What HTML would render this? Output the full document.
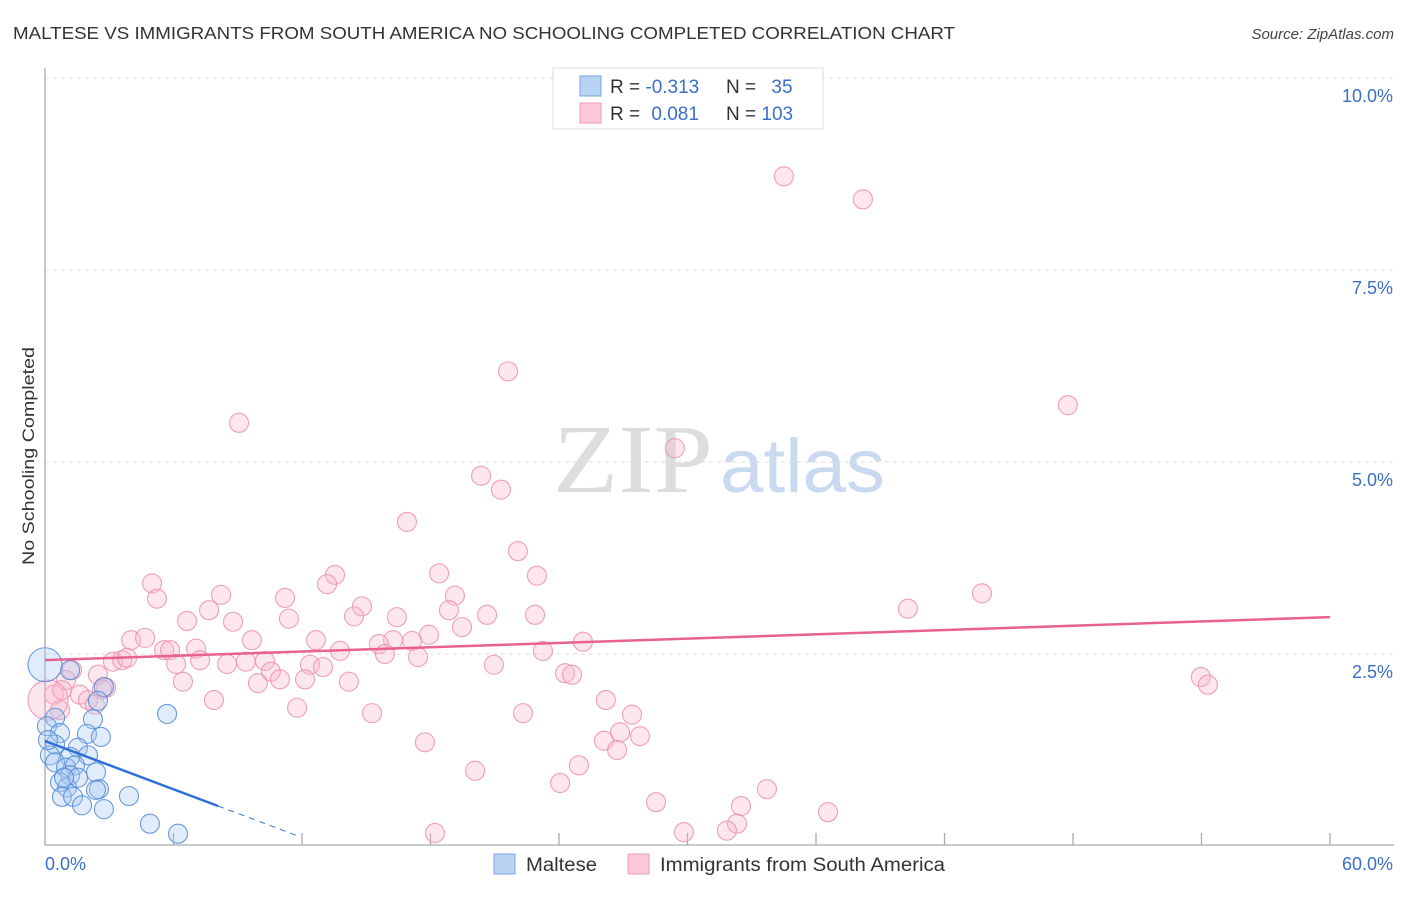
<!DOCTYPE html>
<html><head><meta charset="utf-8"><style>
body{margin:0;background:#fff;font-family:"Liberation Sans",sans-serif}
</style></head><body>
<svg width="1406" height="892" viewBox="0 0 1406 892" xmlns="http://www.w3.org/2000/svg" font-family="Liberation Sans, sans-serif">
<text x="13" y="39" font-size="17.5" fill="#333" textLength="942" lengthAdjust="spacingAndGlyphs">MALTESE VS IMMIGRANTS FROM SOUTH AMERICA NO SCHOOLING COMPLETED CORRELATION CHART</text>
<text x="1394" y="39" font-size="15" fill="#444" text-anchor="end" font-style="italic">Source: ZipAtlas.com</text>
<g>
<text x="553" y="492" font-size="98" font-family="Liberation Serif, serif" fill="#ddd" textLength="160" lengthAdjust="spacingAndGlyphs">ZIP</text>
<text x="720" y="492" font-size="76" fill="#c9daf0" textLength="165" lengthAdjust="spacingAndGlyphs">atlas</text>
</g>
<g id="grid"></g>
<g id="axes"></g>
<g id="marks"></g>
<text transform="translate(34,456) rotate(-90)" font-size="17" fill="#333" text-anchor="middle" textLength="218" lengthAdjust="spacingAndGlyphs">No Schooling Completed</text>
<g>
<rect x="553" y="68" width="270" height="61" fill="#fff" stroke="#ddd"/>
<rect x="580" y="76" width="21" height="20" fill="#b9d3f5" stroke="#7aa6e0"/>
<rect x="580" y="103" width="21" height="20" fill="#fcc9d8" stroke="#ef9ab4"/>
<text x="610" y="93" font-size="19" fill="#333">R = <tspan fill="#3a6fc9">-0.313</tspan></text>
<text x="726" y="93" font-size="19" fill="#333">N = <tspan fill="#3a6fc9" dx="10">35</tspan></text>
<text x="610" y="120" font-size="19" fill="#333">R = <tspan fill="#3a6fc9" dx="6">0.081</tspan></text>
<text x="726" y="120" font-size="19" fill="#333">N = <tspan fill="#3a6fc9">103</tspan></text>
</g>
<g>
<rect x="494" y="854" width="21" height="20" fill="#b9d3f5" stroke="#7aa6e0"/>
<text x="526" y="871" font-size="19" fill="#333" textLength="71" lengthAdjust="spacingAndGlyphs">Maltese</text>
<rect x="628" y="854" width="21" height="20" fill="#fcc9d8" stroke="#ef9ab4"/>
<text x="660" y="871" font-size="19" fill="#333" textLength="285" lengthAdjust="spacingAndGlyphs">Immigrants from South America</text>
</g>
</svg>
<script>
const yTicks=[2.5,5,7.5,10];
const yTickLabels=["2.5%","5.0%","7.5%","10.0%"];
const xTicks=[0,6,12,18,24,30,36,42,48,54,60];
const xEndLabels=["0.0%","60.0%"];
const pinkX=[34.50,38.19,21.62,47.76,9.06,29.41,20.36,21.29,16.90,22.08,5.00,18.40,22.97,13.54,13.17,5.23,8.22,11.21,19.14,14.80,7.66,40.29,43.75,6.63,8.78,11.39,14.43,16.43,18.86,20.64,22.88,19.47,17.93,4.02,4.67,9.66,12.65,16.25,17.14,25.12,5.56,5.84,7.05,13.77,15.59,15.87,23.25,7.24,3.17,3.60,3.83,6.12,8.50,9.38,10.27,17.42,12.37,12.98,20.96,10.55,10.97,12.14,24.28,24.61,6.44,9.94,14.19,53.97,54.30,2.85,2.47,1.26,0.98,7.89,11.77,15.27,22.32,26.19,27.41,0.42,0.70,1.63,2.01,26.85,26.10,27.78,17.74,26.71,20.08,24.93,24.05,33.71,28.53,32.50,36.56,32.31,31.84,29.83,18.21,0.79,2.66,2.33];
const pinkY=[8.72,8.42,6.18,5.74,5.51,5.18,4.82,4.64,4.22,3.84,3.42,3.55,3.52,3.53,3.41,3.22,3.27,3.23,3.26,3.12,3.07,3.09,3.29,2.93,2.92,2.96,2.99,2.98,3.07,3.01,3.01,2.85,2.75,2.68,2.71,2.68,2.68,2.68,2.67,2.66,2.55,2.55,2.57,2.54,2.63,2.50,2.54,2.42,2.40,2.42,2.45,2.37,2.37,2.40,2.41,2.46,2.36,2.33,2.36,2.27,2.17,2.17,2.25,2.23,2.14,2.12,2.14,2.20,2.10,2.06,2.23,2.29,2.16,1.90,1.80,1.73,1.73,1.90,1.71,1.97,1.77,1.97,1.90,1.48,1.37,1.43,1.35,1.25,0.98,1.05,0.82,0.74,0.57,0.52,0.44,0.29,0.20,0.18,0.17,2.03,2.04,1.84];
const pinkBigX=[0.14];
const pinkBigY=[1.90];
const blueX=[1.17,2.75,2.47,5.70,2.24,0.47,0.09,0.70,1.96,2.61,0.47,1.54,2.01,0.23,1.17,0.47,0.98,1.40,2.38,1.17,0.70,1.03,1.54,0.89,2.52,2.38,0.79,1.31,3.92,1.73,2.75,4.90,6.21,0.14];
const blueY=[2.29,2.07,1.89,1.72,1.65,1.67,1.56,1.47,1.46,1.42,1.32,1.28,1.18,1.18,1.16,1.09,1.02,1.05,0.96,0.92,0.83,0.76,0.89,0.89,0.74,0.73,0.64,0.64,0.65,0.53,0.48,0.29,0.16,1.38];
const blueBigX=[0];
const blueBigY=[2.36];
const blueTrend=[1.367,-0.1047,8.08,11.9];
const pinkTrend=[2.42,2.98];
const X=v=>45+v/60*1285, Y=v=>846-v/10*768;
const NS="http://www.w3.org/2000/svg";
function mk(p,tag,a){const e=document.createElementNS(NS,tag);for(const k in a)e.setAttribute(k,a[k]);document.getElementById(p).appendChild(e);return e;}
yTicks.forEach((t,i)=>{
 const g=mk('grid','line',{x1:45,x2:1394,y1:Y(t),y2:Y(t),stroke:'#ddd','stroke-dasharray':'4,4'});
 
 
 const l=mk('grid','text',{x:1393,y:Y(t)+24,'font-size':18,fill:'#3a6fc9','text-anchor':'end'});
 l.textContent=yTickLabels[i];
 
 
});
const ax=mk('axes','path',{d:`M45 68 V845 H1394`,stroke:'#aaa',fill:'none','stroke-width':1.3});


xTicks.slice(1).forEach(t=>{
 const tk=mk('axes','line',{x1:X(t),x2:X(t),y1:833,y2:845,stroke:'#aaa','stroke-width':1.3});
 
 
});
[[0,45,'start'],[1,1393,'end']].forEach(([i,x,a])=>{
 const l=mk('axes','text',{x:x,y:870,'font-size':18,fill:'#3a6fc9','text-anchor':a});
 l.textContent=xEndLabels[i];
 
 
});
function dots(xs,ys,r,fill,stroke,name){xs.forEach((x,i)=>{
 const c=mk('marks','circle',{cx:X(x),cy:Y(ys[i]),r:r,fill:fill,'fill-opacity':0.35,stroke:stroke,'stroke-width':1.1,'stroke-opacity':0.85});
 
 
});}
dots(pinkX,pinkY,9.5,'#f9b7ca','#ec8fab','pink-point');
dots(pinkBigX,pinkBigY,20,'#f9b7ca','#ec8fab','pink-point');
dots(blueX,blueY,9.5,'#a9c8f0','#4f8ad8','blue-point');
dots(blueBigX,blueBigY,17,'#a9c8f0','#4f8ad8','blue-point');
const pl=mk('marks','line',{x1:X(0),y1:Y(pinkTrend[0]),x2:X(60),y2:Y(pinkTrend[1]),stroke:'#e8628d','stroke-width':2.5});


const bl=mk('marks','line',{x1:X(0),y1:Y(blueTrend[0]),x2:X(blueTrend[2]),y2:Y(blueTrend[0]+blueTrend[1]*blueTrend[2]),stroke:'#2d6fd6','stroke-width':2.5});


const bd=mk('marks','line',{x1:X(blueTrend[2]),y1:Y(blueTrend[0]+blueTrend[1]*blueTrend[2]),x2:X(blueTrend[3]),y2:Y(blueTrend[0]+blueTrend[1]*blueTrend[3]),stroke:'#2d6fd6','stroke-width':1,'stroke-dasharray':'6,5'});


</script>
</body></html>
